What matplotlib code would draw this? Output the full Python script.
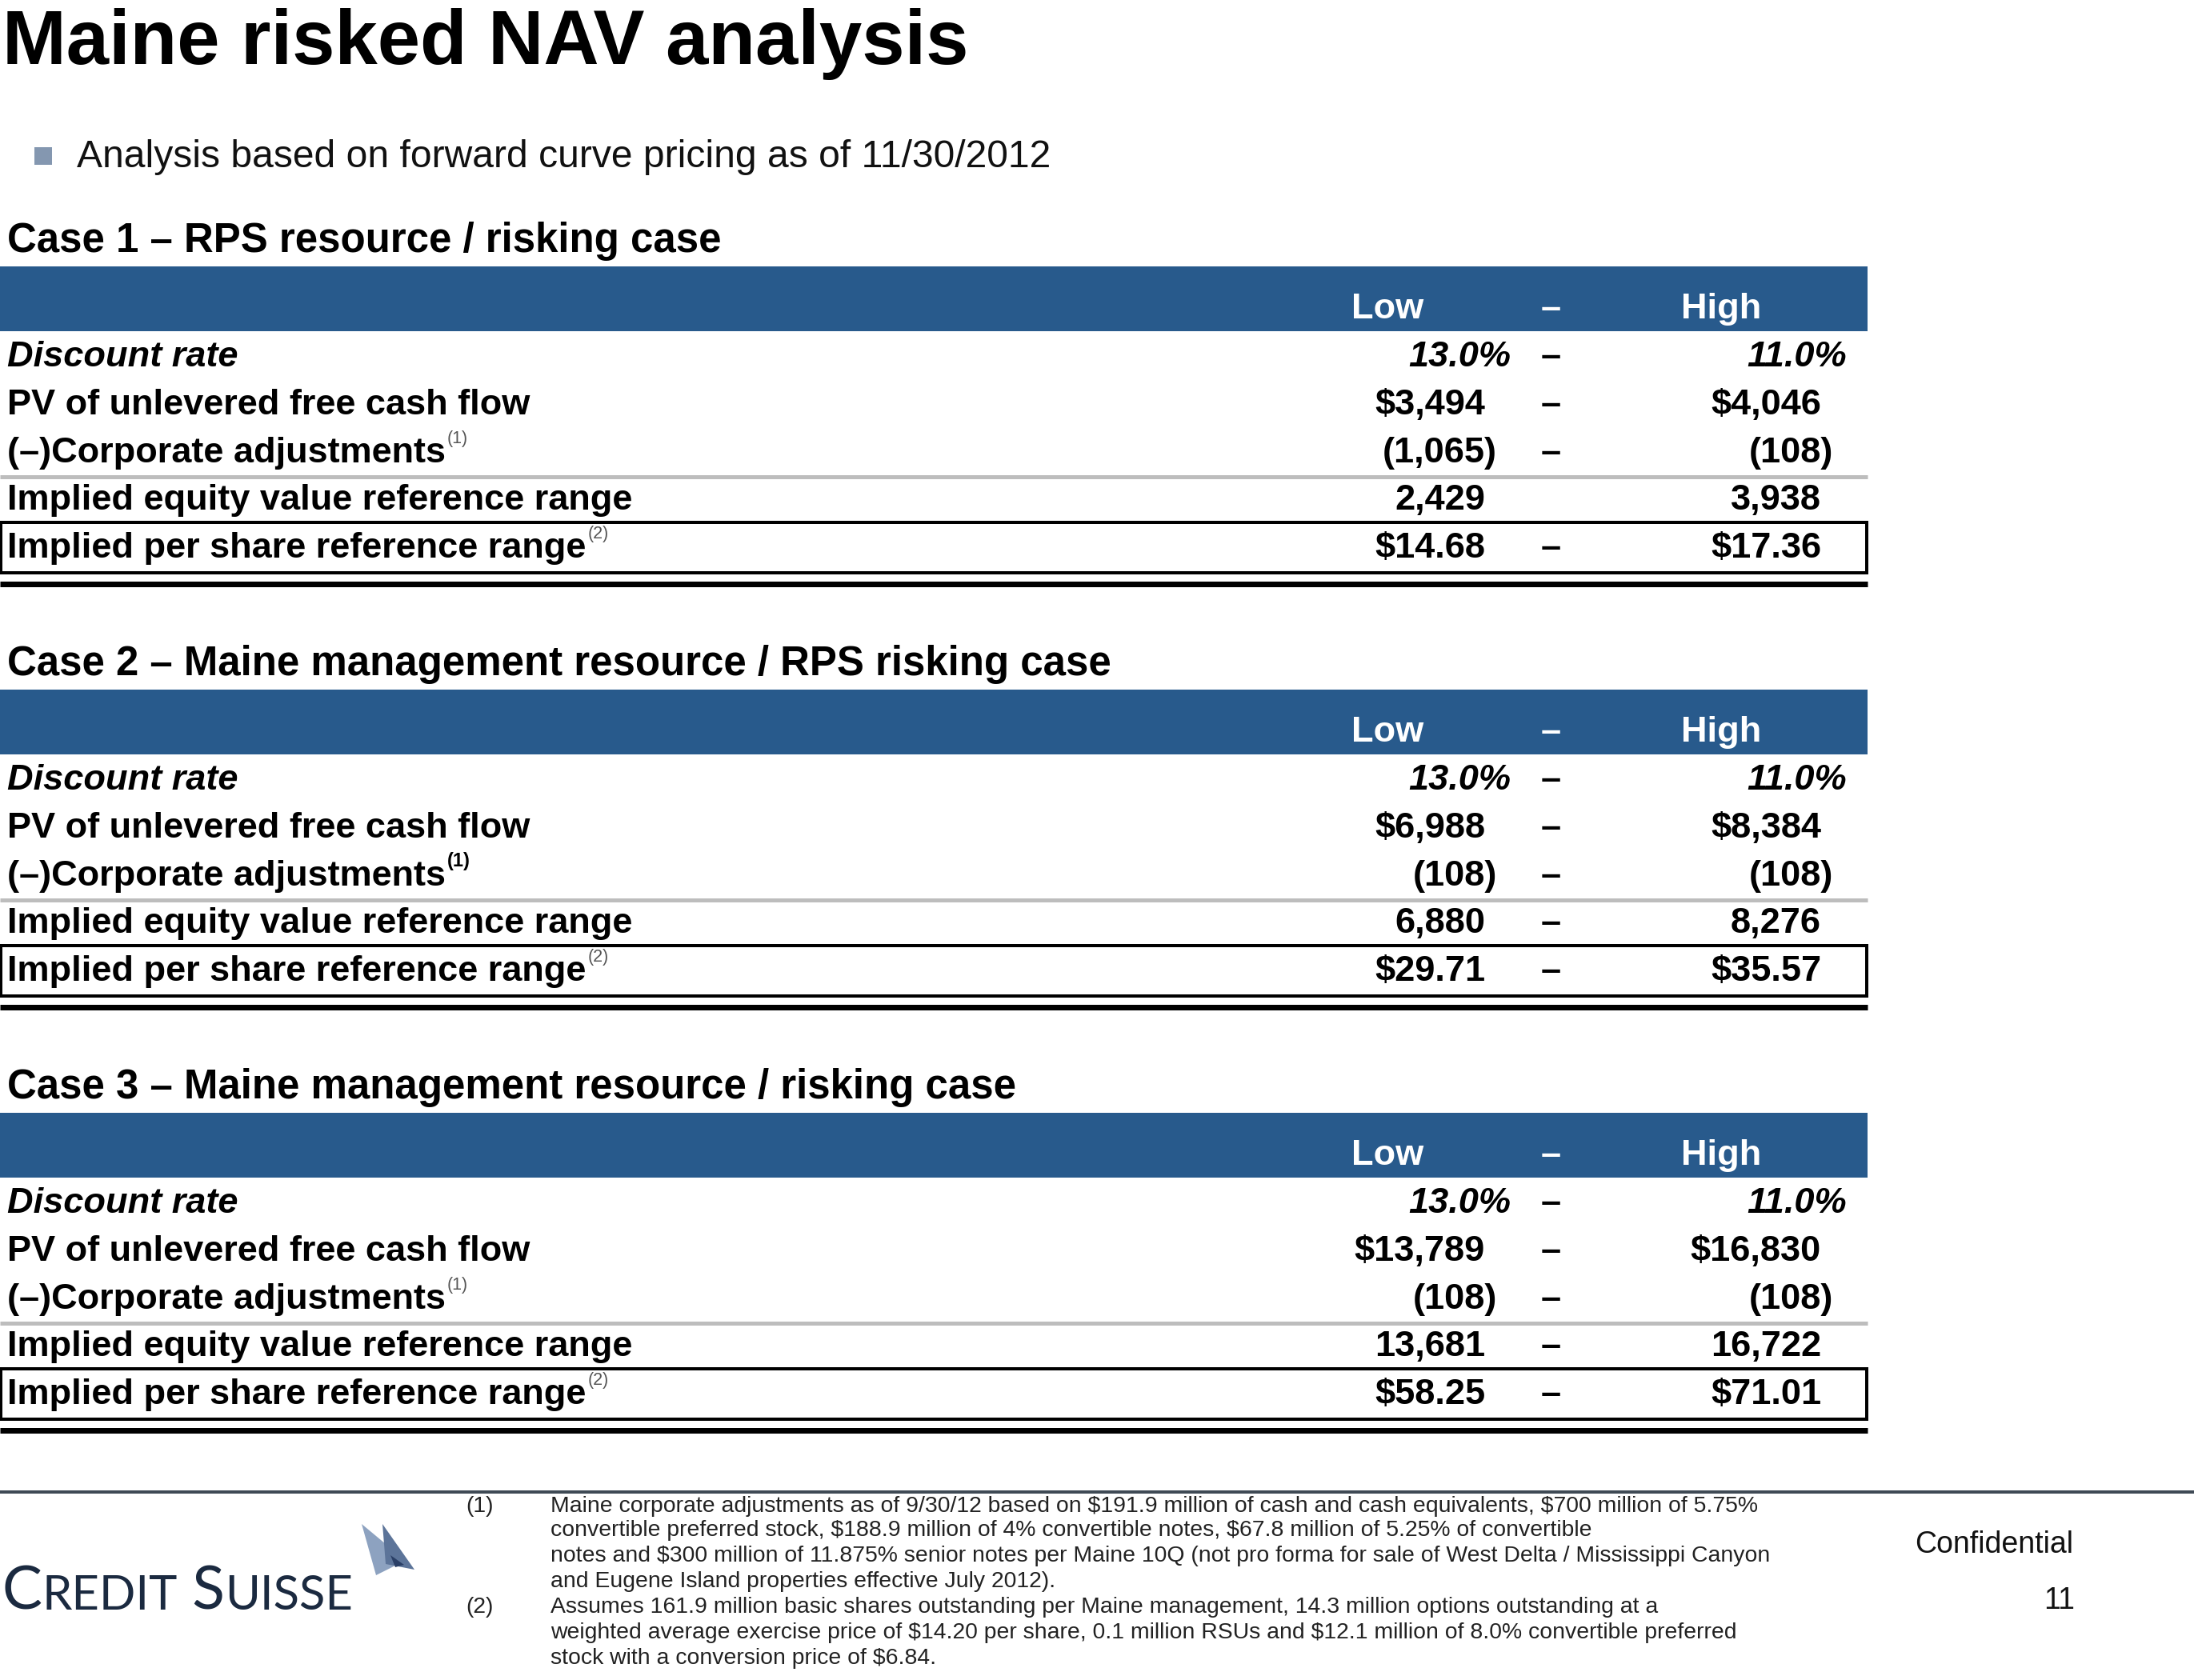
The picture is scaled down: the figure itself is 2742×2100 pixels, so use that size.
import matplotlib
matplotlib.use("Agg")
import matplotlib.pyplot as plt
from matplotlib.patches import Rectangle, Polygon

plt.rcParams['font.family'] = ['Liberation Sans', 'DejaVu Sans']
plt.rcParams['text.parse_math'] = False

# ------------------------------------------------------------
# data
# ------------------------------------------------------------
title = "Maine risked NAV analysis"
bullet = "Analysis based on forward curve pricing as of 11/30/2012"
case_titles = ["Case 1 – RPS resource / risking case",
               "Case 2 – Maine management resource / RPS risking case",
               "Case 3 – Maine management resource / risking case"]
row_labels = ["Discount rate",
              "PV of unlevered free cash flow",
              "(–)Corporate adjustments",
              "Implied equity value reference range",
              "Implied per share reference range"]
row_notes = [None, None, "(1)", None, "(2)"]

disc_low = ["13.0%", "13.0%", "13.0%"]
disc_high = ["11.0%", "11.0%", "11.0%"]
pv_low = ["$3,494", "$6,988", "$13,789"]
pv_high = ["$4,046", "$8,384", "$16,830"]
adj_low = ["(1,065)", "(108)", "(108)"]
adj_high = ["(108)", "(108)", "(108)"]
eq_low = ["2,429", "6,880", "13,681"]
eq_high = ["3,938", "8,276", "16,722"]
ps_low = ["$14.68", "$29.71", "$58.25"]
ps_high = ["$17.36", "$35.57", "$71.01"]
eq_dash = [False, True, True]
note1_bold = [False, True, False]

footnote1 = ["Maine corporate adjustments as of 9/30/12 based on $191.9 million of cash and cash equivalents, $700 million of 5.75%",
             "convertible preferred stock, $188.9 million of 4% convertible notes, $67.8 million of 5.25% of convertible",
             "notes and $300 million of 11.875% senior notes per Maine 10Q (not pro forma for sale of West Delta / Mississippi Canyon",
             "and Eugene Island properties effective July 2012)."]
footnote2 = ["Assumes 161.9 million basic shares outstanding per Maine management, 14.3 million options outstanding at a",
             "weighted average exercise price of $14.20 per share, 0.1 million RSUs and $12.1 million of 8.0% convertible preferred",
             "stock with a conversion price of $6.84."]

# ------------------------------------------------------------
# canvas in pixel units
# ------------------------------------------------------------
W, H = 2742, 2100
fig = plt.figure(figsize=(W / 100, H / 100), dpi=100)
ax = fig.add_axes([0, 0, 1, 1])
ax.set_xlim(0, W)
ax.set_ylim(H, 0)
ax.axis('off')
rend = fig.canvas.get_renderer()

BLUE = '#285A8C'
PX = 0.72  # pixel -> point at dpi 100


def right_of(t):
    return t.get_window_extent(rend).x1


# title + bullet
ax.text(3, 80, title, fontsize=69, fontweight='bold', va='baseline')
ax.add_patch(Rectangle((43, 184), 22, 22, color='#8497B0', lw=0))
ax.text(96, 209, bullet, fontsize=34.6, va='baseline', color='#111111')

LOW_R, HIGH_R, DASH_X = 1856, 2276, 1938
FS = 32.5


def num_x(base, s):
    if s.endswith(')'):
        return base + 15
    if s.endswith('%'):
        return base + 32
    return base


for k in range(3):
    dy = k * 529
    ax.text(9, 315 + dy, case_titles[k], fontsize=36.7, fontweight='bold',
            va='baseline')

    # header band
    ax.add_patch(Rectangle((0, 333 + dy), 2334, 81, color=BLUE, lw=0))
    ax.text(1734, 398 + dy, "Low", fontsize=FS, fontweight='bold', color='white',
            ha='center', va='baseline')
    ax.text(DASH_X, 398 + dy, "–", fontsize=FS, fontweight='bold', color='white',
            ha='center', va='baseline')
    ax.text(2151, 398 + dy, "High", fontsize=FS, fontweight='bold', color='white',
            ha='center', va='baseline')

    lows = [disc_low[k], pv_low[k], adj_low[k], eq_low[k], ps_low[k]]
    highs = [disc_high[k], pv_high[k], adj_high[k], eq_high[k], ps_high[k]]
    dashes = [True, True, True, eq_dash[k], True]
    baselines = [458, 518, 578, 637, 697]

    for i, lab in enumerate(row_labels):
        y = baselines[i] + dy
        style = 'italic' if i == 0 else 'normal'
        t = ax.text(9, y, lab, fontsize=FS, fontweight='bold', fontstyle=style,
                    va='baseline')
        if row_notes[i]:
            bold = (i == 2 and note1_bold[k])
            ax.text(right_of(t) + 2, y - 24, row_notes[i],
                    fontsize=17 if bold else 15.5,
                    fontweight='bold' if bold else 'normal',
                    color='black' if bold else '#555555', va='baseline')
        ax.text(num_x(LOW_R, lows[i]), y, lows[i], fontsize=FS, fontweight='bold',
                fontstyle=style, ha='right', va='baseline')
        ax.text(num_x(HIGH_R, highs[i]), y, highs[i], fontsize=FS, fontweight='bold',
                fontstyle=style, ha='right', va='baseline')
        if dashes[i]:
            ax.text(DASH_X, y, "–", fontsize=FS, fontweight='bold', ha='center',
                    va='baseline')

    # rules
    ax.plot([0, 2334], [596 + dy, 596 + dy], color='#BDBDBD', lw=5 * PX,
            solid_capstyle='butt')
    ax.add_patch(Rectangle((1, 653 + dy), 2332, 63, fill=False, ec='black',
                           lw=4 * PX))
    ax.plot([0, 2334], [730 + dy, 730 + dy], color='black', lw=7 * PX,
            solid_capstyle='butt')

# footer
ax.plot([0, W], [1865, 1865], color='#3F4A55', lw=4 * PX, solid_capstyle='butt')

fn_base = [1890, 1920, 1952, 1984, 2016, 2048, 2080]
FN = 20.4
ax.text(582, fn_base[0], "(1)", fontsize=FN, color='#222222', va='baseline')
ax.text(582, fn_base[4], "(2)", fontsize=FN, color='#222222', va='baseline')
for j, line in enumerate(footnote1 + footnote2):
    ax.text(688, fn_base[j], line, fontsize=FN, color='#222222', va='baseline')

ax.text(2492, 1941, "Confidential", fontsize=27, ha='center', va='baseline',
        color='#111111')
ax.text(2593, 2011, "11", fontsize=27, ha='right', va='baseline', color='#111111')

# logo
LOGO = '#1B2A40'
x = 2
for part, size in [("C", 54), ("REDIT", 43), (" S", 54), ("UISSE", 43)]:
    t = ax.text(x, 2012, part, fontsize=size, color=LOGO, va='baseline',
                family=['Lato', 'DejaVu Sans'])
    x = right_of(t)
ax.add_patch(Polygon([(452, 1905), (500, 1945), (492, 1958), (470, 1969)],
                     closed=True, color='#8DA2C0', lw=0))
ax.add_patch(Polygon([(478, 1905), (518, 1962), (482, 1955)], closed=True,
                     color='#5C7499', lw=0))
ax.add_patch(Polygon([(488, 1944), (505, 1956), (494, 1959)], closed=True,
                     color='#2A3F66', lw=0))

fig.savefig("out.png", dpi=100, facecolor='white')
